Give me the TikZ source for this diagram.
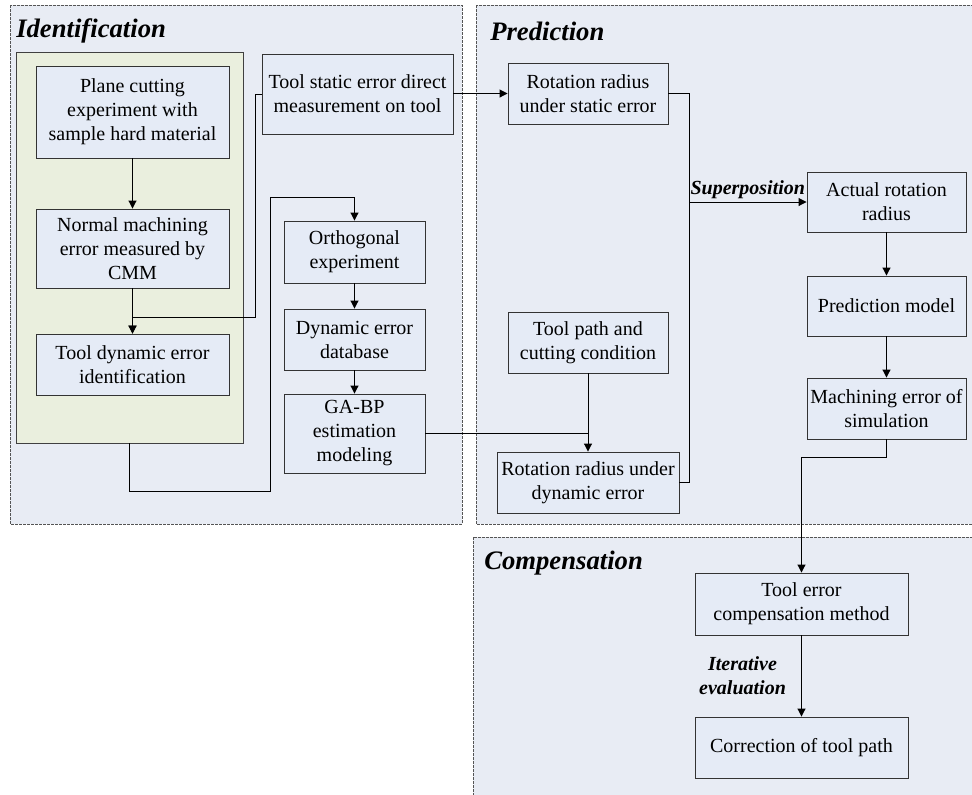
\documentclass[tikz,border=0pt]{standalone}
\usepackage{fontspec}
\setmainfont{Liberation Serif}
\usetikzlibrary{positioning, calc, arrows.meta}

\definecolor{panelbg}{RGB}{232,236,244}
\definecolor{boxbg}{RGB}{229,235,246}
\definecolor{greenbg}{RGB}{234,239,222}
\definecolor{rulegray}{RGB}{85,85,85}

\begin{document}
\begin{tikzpicture}[x=0.75pt, y=-0.75pt,
    panel/.style={draw=rulegray, fill=panelbg, dash pattern=on 2pt off 1pt, line width=0.6pt},
    greenbox/.style={draw=black!75, fill=greenbg, line width=0.7pt, inner sep=0pt},
    blk/.style={draw=black!80, fill=boxbg, line width=0.7pt, align=center, inner sep=0pt,
      minimum height=45.75pt, font=\fontsize{15}{18}\selectfont},
    title/.style={anchor=west, inner sep=0pt, font=\fontsize{20}{24}\selectfont\bfseries\itshape},
    lbl/.style={align=center, font=\fontsize{15}{18}\selectfont\bfseries\itshape},
    line/.style={line width=0.75pt},
    arr/.style={line, -{Triangle[length=6pt, width=6pt]}}]

      \useasboundingbox (0, 0) rectangle (972, 794);
      \clip (0, 0) rectangle (972, 794);

      % Panels
      \draw[panel] (10, 5) rectangle (462, 524);
      \draw[panel] (476, 5) rectangle (990, 524);
      \draw[panel] (473, 537) rectangle (990, 810);
      \node[title] (tident) at (16, 31) {Identification};
      \node[title] (tpred) at (490, 31) {Prediction};
      \node[title] (tcomp) at (484, 563) {Compensation};

      % Identification
      \node[greenbox, minimum width=170.25pt, minimum height=293.25pt] (green) at (129.5, 247.5) {};
      \node[blk, minimum width=144.75pt, minimum height=69pt] (plane) at (132.5, 112)
        {Plane cutting\\experiment with\\sample hard material};
      \node[blk, minimum width=144.75pt, minimum height=59.25pt] (normal) at (132.5, 248.5)
        {Normal machining\\error measured by\\CMM};
      \node[blk, minimum width=144.75pt] (tdyn) at (132.5, 364.5)
        {Tool dynamic error\\identification};
      \node[blk, minimum width=143.25pt, minimum height=60pt] (tstatic) at (357.5, 94)
        {Tool static error direct\\measurement on tool};
      \node[blk, minimum width=105.75pt, minimum height=46.5pt] (ortho) at (354.5, 252)
        {Orthogonal\\experiment};
      \node[blk, minimum width=105.75pt] (dyndb) at (354.5, 339.5)
        {Dynamic error\\database};
      \node[blk, minimum width=105.75pt, minimum height=59.25pt] (gabp) at (354.5, 433.5)
        {GA-BP\\estimation\\modeling};

      % Prediction
      \node[blk, minimum width=120pt] (rstatic) at (588, 93.5)
        {Rotation radius\\under static error};
      \node[blk, minimum width=120pt] (tpath) at (588, 342.5)
        {Tool path and\\cutting condition};
      \node[blk, minimum width=136.5pt] (rdyn) at (588, 482.5)
        {Rotation radius under\\dynamic error};
      \node[blk, minimum width=119.25pt, minimum height=45pt] (actual) at (886.5, 202)
        {Actual rotation\\radius};
      \node[blk, minimum width=119.25pt, minimum height=45pt] (predm) at (886.5, 306)
        {Prediction model};
      \node[blk, minimum width=119.25pt] (macherr) at (886.5, 408.5)
        {Machining error of\\simulation};

      % Compensation
      \node[blk, minimum width=159.75pt, minimum height=46.5pt] (tecomp) at (801.5, 604)
        {Tool error\\compensation method};
      \node[blk, minimum width=159.75pt] (corr) at (801.5, 747.5)
        {Correction of tool path};

      % Junctions
      \coordinate (j1) at (255, 317);
      \coordinate (j2) at (270, 491);
      \coordinate (j3) at (689, 93.5);

      % Arrows
      \draw[arr] (plane) -- (normal);
      \draw[arr] (normal) -- (tdyn);
      \draw[arr] (tstatic.west) -| (j1) -| (tdyn.north);
      \draw[arr] (green.south) |- (j2) |- ($(ortho.north) + (0, -23)$) -- (ortho.north);
      \draw[arr] (ortho) -- (dyndb);
      \draw[arr] (dyndb) -- (gabp);
      \draw[arr] (tstatic.east |- rstatic.west) -- (rstatic.west);
      \draw[arr] (tpath) -- (rdyn);
      \draw[line] (gabp.east) -- (gabp.east -| tpath.south);
      \draw[line] (rstatic.east) -- (j3) |- (rdyn.east);
      \draw[arr] (j3 |- actual.west) -- (actual.west)
        node[midway, above=1pt, lbl, inner sep=1pt] {Superposition};
      \draw[arr] (actual) -- (predm);
      \draw[arr] (predm) -- (macherr);
      \draw[arr] (macherr.south) -- ++(0, 18) -| (tecomp.north);
      \draw[arr] (tecomp) -- (corr)
        node[midway, left=8pt, lbl] {Iterative\\evaluation};
    \end{tikzpicture}
\end{document}
